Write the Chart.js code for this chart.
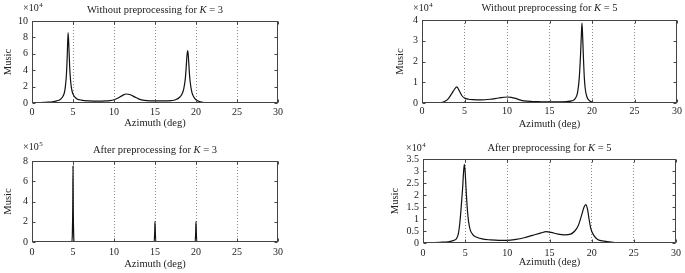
<!DOCTYPE html>
<html>
<head>
<meta charset="utf-8">
<script src="https://cdn.jsdelivr.net/npm/chart.js@4.4.1/dist/chart.umd.min.js"></script>
<style>
  body { margin: 0; background: #fff; width: 685px; height: 273px; position: relative; overflow: hidden; }
  .box { position: absolute; }
</style>
</head>
<body>
<div class="box" style="left:0;top:0"><canvas id="c1" width="340" height="135"></canvas></div>
<div class="box" style="left:370px;top:0"><canvas id="c2" width="315" height="135"></canvas></div>
<div class="box" style="left:0;top:135px"><canvas id="c3" width="340" height="138"></canvas></div>
<div class="box" style="left:370px;top:135px"><canvas id="c4" width="315" height="138"></canvas></div>
<script>
// top left: without preprocessing, K = 3  (x10^4)
const az1 = [0, 1, 2, 2.5, 3, 3.4, 3.7, 3.9, 4.0, 4.1, 4.2, 4.3, 4.4, 4.5, 4.6, 4.7, 4.8, 4.9, 5.0, 5.2, 5.5, 6, 7, 8, 9, 9.5, 10, 10.5, 11, 11.5, 12, 12.5, 13, 13.5, 14, 15, 16, 17, 17.5, 18, 18.3, 18.5, 18.7, 18.8, 18.9, 19.0, 19.1, 19.2, 19.3, 19.5, 19.7, 20.0, 20.5, 21, 22, 24, 30];
const music1 = [0.05, 0.06, 0.1, 0.15, 0.25, 0.4, 0.7, 1.1, 1.5, 2.3, 3.5, 5.8, 8.6, 6.8, 4.3, 2.8, 1.9, 1.4, 1.1, 0.75, 0.5, 0.35, 0.25, 0.22, 0.25, 0.3, 0.4, 0.6, 0.9, 1.1, 1.0, 0.75, 0.5, 0.35, 0.28, 0.25, 0.25, 0.3, 0.4, 0.7, 1.1, 1.7, 3.0, 4.3, 5.8, 6.4, 5.2, 3.6, 2.5, 1.3, 0.8, 0.4, 0.15, 0.06, 0.02, 0.01, 0];

// top right: without preprocessing, K = 5  (x10^4)
const az2 = [0, 1, 2, 2.5, 3, 3.5, 3.8, 4.1, 4.4, 4.7, 5, 5.5, 6, 7, 8, 9, 10, 10.5, 11, 11.5, 12, 13, 14, 15, 16, 17, 17.6, 18, 18.3, 18.5, 18.65, 18.75, 18.82, 18.9, 19.0, 19.1, 19.2, 19.4, 19.6, 20, 20.5, 21, 30];
const music2 = [0, 0, 0.01, 0.05, 0.16, 0.45, 0.65, 0.78, 0.58, 0.35, 0.24, 0.18, 0.16, 0.15, 0.18, 0.24, 0.29, 0.27, 0.22, 0.15, 0.1, 0.07, 0.06, 0.05, 0.05, 0.07, 0.1, 0.2, 0.5, 1.2, 2.3, 3.3, 3.85, 3.2, 2.1, 1.2, 0.7, 0.3, 0.15, 0.05, 0.01, 0, 0];

// bottom left: after preprocessing, K = 3  (x10^5)
const az3 = [0, 4.85, 4.92, 4.97, 5.0, 5.03, 5.08, 5.15, 14.9, 14.96, 15.0, 15.04, 15.1, 19.9, 19.96, 20.0, 20.04, 20.1, 30];
const music3 = [0, 0, 0.8, 3.5, 7.5, 3.5, 0.8, 0, 0, 0.9, 2.05, 0.9, 0, 0, 0.9, 2.05, 0.9, 0, 0];

// bottom right: after preprocessing, K = 5  (x10^4)
const az4 = [0, 1, 2, 3, 3.5, 3.8, 4.0, 4.2, 4.4, 4.55, 4.7, 4.8, 4.9, 5.0, 5.1, 5.25, 5.4, 5.6, 5.9, 6.3, 7, 8, 9, 10, 11, 12, 13, 14, 14.6, 15.2, 16, 16.8, 17.5, 18, 18.4, 18.8, 19.1, 19.3, 19.5, 19.7, 19.9, 20.2, 20.7, 21.5, 22.7];
const music4 = [0.02, 0.02, 0.03, 0.05, 0.09, 0.13, 0.2, 0.4, 0.95, 1.6, 2.3, 2.9, 3.28, 2.95, 2.3, 1.45, 0.9, 0.55, 0.35, 0.25, 0.17, 0.13, 0.11, 0.11, 0.15, 0.22, 0.32, 0.42, 0.47, 0.44, 0.37, 0.34, 0.37, 0.5, 0.72, 1.15, 1.5, 1.6, 1.42, 0.98, 0.6, 0.35, 0.15, 0.08, 0.02];

const FONT = "'Liberation Serif', 'Times New Roman', serif";
const INK = '#222';

// frame, inward ticks, title with italic K and the x10^n note
const boxPlugin = {
  id: 'box',
  afterDraw(chart, args, o) {
    const { ctx, chartArea: a, scales: { x, y } } = chart;
    ctx.save();
    ctx.strokeStyle = '#444';
    ctx.lineWidth = 1;
    const L = Math.round(a.left) + 0.5, R = Math.round(a.right) - 0.5;
    const T = Math.round(a.top) + 0.5, B = Math.round(a.bottom) - 0.5;
    ctx.strokeRect(L, T, R - L, B - T);
    ctx.beginPath();
    x.ticks.forEach(t => {
      const px = Math.round(x.getPixelForValue(t.value)) + 0.5;
      ctx.moveTo(px, B); ctx.lineTo(px, B - 3);
      ctx.moveTo(px, T); ctx.lineTo(px, T + 3);
    });
    y.ticks.forEach(t => {
      const py = Math.round(y.getPixelForValue(t.value)) + 0.5;
      ctx.moveTo(L, py); ctx.lineTo(L + 3, py);
      ctx.moveTo(R, py); ctx.lineTo(R - 3, py);
    });
    ctx.stroke();

    // title
    ctx.fillStyle = INK;
    ctx.textBaseline = 'middle';
    const parts = [[o.before, 'normal'], ['K', 'italic'], [o.after, 'normal']];
    let w = 0;
    parts.forEach(p => { ctx.font = p[1] + ' 10.5px ' + FONT; w += ctx.measureText(p[0]).width; });
    let cx = (a.left + a.right) / 2 - w / 2;
    parts.forEach(p => {
      ctx.font = p[1] + ' 10.5px ' + FONT;
      ctx.fillText(p[0], cx, o.titleY);
      cx += ctx.measureText(p[0]).width;
    });

    // exponent
    ctx.font = '10px ' + FONT;
    ctx.fillText('\u00d710', o.expX, o.expY);
    const ew = ctx.measureText('\u00d710').width;
    ctx.font = '7px ' + FONT;
    ctx.fillText(o.exp, o.expX + ew + 0.5, o.expY - 3);
    ctx.restore();
  }
};

function makeChart(id, az, vals, s) {
  new Chart(id, {
    type: 'scatter',
    data: {
      datasets: [{
        data: az.map((v, i) => ({ x: v, y: vals[i] })),
        showLine: true,
        borderColor: '#111',
        borderWidth: 1.2,
        pointRadius: 0,
        cubicInterpolationMode: 'monotone'
      }]
    },
    plugins: [boxPlugin],
    options: {
      responsive: false,
      animation: false,
      layout: { padding: { top: s.top, right: s.right, left: 0, bottom: 0 } },
      plugins: {
        legend: { display: false },
        tooltip: { enabled: false },
        box: s.box
      },
      scales: {
        x: {
          type: 'linear', min: 0, max: 30,
          afterFit: sc => { sc.height = s.xH; },
          ticks: { stepSize: 5, padding: s.tickPad, autoSkip: false, maxRotation: 0, color: INK, font: { family: FONT, size: 10 } },
          grid: {
            drawTicks: false,
            color: c => (c.tick && (c.tick.value === 0 || c.tick.value === 30)) ? 'rgba(0,0,0,0)' : '#8a8a8a',
            lineWidth: 1
          },
          border: { display: false, dash: [1, 2] },
          title: { display: true, text: 'Azimuth (deg)', color: INK, font: { family: FONT, size: 10.5 }, padding: { top: 0, bottom: s.xTitlePad } }
        },
        y: {
          min: 0, max: s.yMax,
          afterFit: sc => { sc.width = s.yW; },
          ticks: {
            stepSize: s.yStep, padding: 4, autoSkip: false, color: INK, font: { family: FONT, size: 10 },
            callback: v => String(v)
          },
          grid: { display: false, drawTicks: false },
          border: { display: false },
          title: { display: true, text: 'Music', color: INK, font: { family: FONT, size: 10.5 }, padding: { top: s.yTitlePad, bottom: 0 } }
        }
      }
    }
  });
}

makeChart('c1', az1, music1, {
  top: 21, right: 62, xH: 32, yW: 32, tickPad: 3, xTitlePad: 5, yTitlePad: 2, yMax: 10, yStep: 2,
  box: { before: 'Without preprocessing for ', after: ' = 3', titleY: 10, exp: '4', expX: 23, expY: 8 }
});
makeChart('c2', az2, music2, {
  top: 20, right: 8, xH: 32, yW: 52, tickPad: 2, xTitlePad: 4, yTitlePad: 24, yMax: 4, yStep: 1,
  box: { before: 'Without preprocessing for ', after: ' = 5', titleY: 8, exp: '4', expX: 43, expY: 8 }
});
makeChart('c3', az3, music3, {
  top: 26, right: 62, xH: 31, yW: 32, tickPad: 4, xTitlePad: 2, yTitlePad: 2, yMax: 8, yStep: 2,
  box: { before: 'After preprocessing for ', after: ' = 3', titleY: 15, exp: '5', expX: 23, expY: 12 }
});
makeChart('c4', az4, music4, {
  top: 24, right: 8, xH: 30, yW: 53, tickPad: 4, xTitlePad: 4, yTitlePad: 19, yMax: 3.5, yStep: 0.5,
  box: { before: 'After preprocessing for ', after: ' = 5', titleY: 13, exp: '4', expX: 36, expY: 13 }
});
</script>
</body>
</html>
